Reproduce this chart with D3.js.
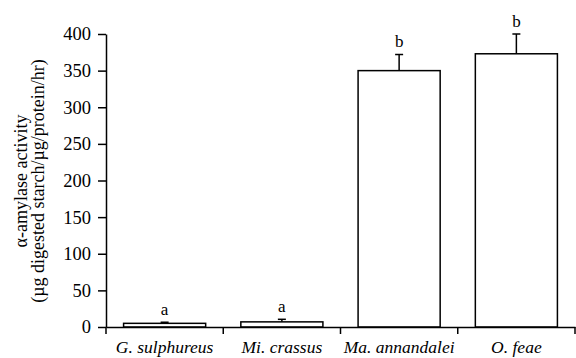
<!DOCTYPE html>
<html>
<head>
<meta charset="utf-8">
<script src="https://cdn.jsdelivr.net/npm/d3@7"></script>
<style>
  body { margin: 0; background: #fff; }
  text { font-family: "Liberation Serif", "Times New Roman", serif; fill: #000; }
</style>
</head>
<body>
<svg id="svg" width="576" height="358"></svg>
<script>
// species and measured activity
var species = ["G. sulphureus", "Mi. crassus", "Ma. annandalei", "O. feae"];
var activity = [5, 7, 350, 373];
var errors = [1.5, 3.5, 22, 27];
var letters = ["a", "a", "b", "b"];
var yTicks = [0, 50, 100, 150, 200, 250, 300, 350, 400];

var svg = d3.select("#svg");
var padding = {top: 34, right: 1, bottom: 31, left: 106};
var chartArea = {
    "width": 576 - padding.left - padding.right,
    "height": 358 - padding.top - padding.bottom
};

var xScale = d3.scaleBand()
    .domain(species)
    .range([0, chartArea.width])
    .padding(0);

var yScale = d3.scaleLinear()
    .domain([0, 400])
    .range([chartArea.height, 0]);

var g = svg.append("g")
    .attr("transform", "translate(" + padding.left + "," + padding.top + ")");

// y axis
var yAxis = g.append("g")
    .call(d3.axisLeft(yScale).tickValues(yTicks).tickSize(8).tickSizeOuter(0).tickPadding(7));
yAxis.attr("font-family", null);
yAxis.selectAll("text").style("font-size", "18.5px");
yAxis.selectAll("path, line").attr("stroke-width", 1.5);

// x axis (labels at centres, ticks at boundaries)
var xAxis = g.append("g")
    .attr("transform", "translate(0," + chartArea.height + ")")
    .call(d3.axisBottom(xScale).tickSize(0).tickSizeOuter(0).tickPadding(14));
xAxis.attr("font-family", null);
xAxis.selectAll("text").style("font-size", "17.5px").style("font-style", "italic");
xAxis.select("path").attr("stroke-width", 1.5);

var bounds = [0].concat(species.map(function(d){ return xScale(d) + xScale.bandwidth(); }));
xAxis.selectAll(".bound").data(bounds).enter()
    .append("line")
    .attr("x1", function(d){ return d; })
    .attr("x2", function(d){ return d; })
    .attr("y1", 0)
    .attr("y2", 7)
    .attr("stroke", "#000")
    .attr("stroke-width", 1.5);

// bars
var barW = xScale.bandwidth() * 0.7;
var data = species.map(function(d, i){
    return {name: d, value: activity[i], err: errors[i], letter: letters[i]};
});

var bars = g.selectAll(".bar").data(data).enter().append("g");

bars.append("line")
    .attr("x1", function(d){ return xScale(d.name) + xScale.bandwidth() / 2; })
    .attr("x2", function(d){ return xScale(d.name) + xScale.bandwidth() / 2; })
    .attr("y1", function(d){ return yScale(d.value); })
    .attr("y2", function(d){ return yScale(d.value + d.err); })
    .attr("stroke", "#000")
    .attr("stroke-width", 1.5);

bars.append("line")
    .attr("x1", function(d){ return xScale(d.name) + xScale.bandwidth() / 2 - 4; })
    .attr("x2", function(d){ return xScale(d.name) + xScale.bandwidth() / 2 + 4; })
    .attr("y1", function(d){ return yScale(d.value + d.err); })
    .attr("y2", function(d){ return yScale(d.value + d.err); })
    .attr("stroke", "#000")
    .attr("stroke-width", 1.5);

bars.append("rect")
    .attr("x", function(d){ return xScale(d.name) + (xScale.bandwidth() - barW) / 2; })
    .attr("width", barW)
    .attr("y", function(d){ return yScale(d.value); })
    .attr("height", function(d){ return chartArea.height - yScale(d.value); })
    .attr("fill", "none")
    .attr("stroke", "#000")
    .attr("stroke-width", 1.5);

bars.append("text")
    .attr("x", function(d){ return xScale(d.name) + xScale.bandwidth() / 2; })
    .attr("y", function(d){ return yScale(d.value + d.err) - 7.5; })
    .attr("text-anchor", "middle")
    .style("font-size", "17px")
    .text(function(d){ return d.letter; });

// y title
var title = svg.append("text")
    .attr("transform", "translate(27,181) rotate(-90)")
    .attr("text-anchor", "middle")
    .style("font-size", "18px");
title.append("tspan").attr("x", 0).attr("dy", 0).text("α-amylase activity");
title.append("tspan").attr("x", 0).attr("dy", 17).text("(µg digested starch/µg/protein/hr)");
</script>
</body>
</html>
